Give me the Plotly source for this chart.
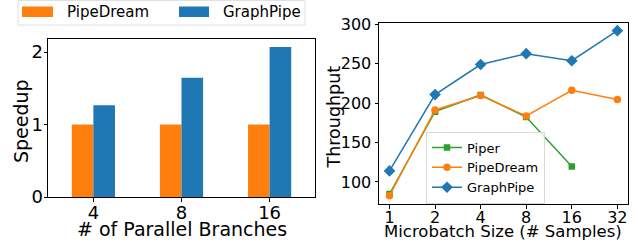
import plotly.graph_objects as go

# Left chart data
branches = ["4", "8", "16"]
speedup_pipedream = [1.0, 1.0, 1.0]
speedup_graphpipe = [1.265, 1.645, 2.07]

# Right chart data
microbatch = ["1", "2", "4", "8", "16", "32"]
thr_piper = [84.7, 189.2, 210.4, 182.4, 119.5]
thr_pipedream = [82.5, 191.3, 209.6, 183.7, 216.3, 204.5]
thr_graphpipe = [114.0, 210.8, 249.0, 262.7, 253.8, 292.0]

ORANGE = "#ff7f0e"
BLUE = "#1f77b4"
GREEN = "#2ca02c"
FONT = "DejaVu Sans"
W, H = 637, 242

fig = go.Figure()

fig.add_trace(go.Bar(x=branches, y=speedup_pipedream, name="PipeDream",
                     marker=dict(color=ORANGE, line=dict(width=0)),
                     xaxis="x", yaxis="y", showlegend=False))
fig.add_trace(go.Bar(x=branches, y=speedup_graphpipe, name="GraphPipe",
                     marker=dict(color=BLUE, line=dict(width=0)),
                     xaxis="x", yaxis="y", showlegend=False))

fig.add_trace(go.Scatter(x=microbatch[:len(thr_piper)], y=thr_piper, name="Piper",
                         mode="lines+markers", line=dict(color=GREEN, width=1.5),
                         marker=dict(symbol="square", size=6.5, color=GREEN),
                         xaxis="x2", yaxis="y2", legend="legend2"))
fig.add_trace(go.Scatter(x=microbatch, y=thr_pipedream, name="PipeDream",
                         mode="lines+markers", line=dict(color=ORANGE, width=1.5),
                         marker=dict(symbol="circle", size=7.5, color=ORANGE),
                         xaxis="x2", yaxis="y2", legend="legend2"))
fig.add_trace(go.Scatter(x=microbatch, y=thr_graphpipe, name="GraphPipe",
                         mode="lines+markers", line=dict(color=BLUE, width=1.5),
                         marker=dict(symbol="diamond", size=9, color=BLUE),
                         xaxis="x2", yaxis="y2", legend="legend2"))

def px_x(p):
    return p / W

def px_y(p):
    return 1 - p / H

axis_common = dict(showline=True, linecolor="black", linewidth=1, mirror=True,
                   ticks="outside", ticklen=3.5, tickcolor="black", showgrid=False,
                   zeroline=False, automargin=False)

fig.update_layout(
    width=W, height=H,
    margin=dict(l=0, r=0, t=0, b=0, autoexpand=False),
    paper_bgcolor="white", plot_bgcolor="white",
    font=dict(family=FONT, color="black"),
    showlegend=True,
    barmode="group", bargap=0.51, bargroupgap=0,
    xaxis=dict(domain=[px_x(48), px_x(315)], anchor="y", type="category",
               range=[-0.515, 2.515], tickfont=dict(size=18), ticklabelstandoff=-4,
               **axis_common),
    yaxis=dict(domain=[px_y(197), px_y(39)], anchor="x", range=[0, 2.18],
               tickvals=[0, 1, 2], tickfont=dict(size=18), ticklabelstandoff=-3,
               **axis_common),
    xaxis2=dict(domain=[px_x(379), px_x(628.3)], anchor="y2", type="category",
                range=[-0.23, 5.24], tickfont=dict(size=16), ticklabelstandoff=-5,
                **axis_common),
    yaxis2=dict(domain=[px_y(204), px_y(23.3)], anchor="x2", range=[72, 301.3],
                tickvals=[100, 150, 200, 250, 300], tickfont=dict(size=16),
                **axis_common),
    legend2=dict(x=px_x(426), y=px_y(131.5), xanchor="left", yanchor="top",
                 bgcolor="rgba(255,255,255,0.8)", bordercolor="#d9d9d9", borderwidth=1,
                 font=dict(size=13), tracegroupgap=0, itemwidth=30),
)

# Axis titles
fig.add_annotation(xref="paper", yref="paper", x=px_x(181.5), y=px_y(229),
                   xanchor="center", yanchor="middle", text="# of Parallel Branches",
                   showarrow=False, font=dict(size=19))
fig.add_annotation(xref="paper", yref="paper", x=px_x(21), y=px_y(121),
                   xanchor="center", yanchor="middle", text="Speedup", textangle=-90,
                   showarrow=False, font=dict(size=19))
fig.add_annotation(xref="paper", yref="paper", x=px_x(503), y=px_y(231),
                   xanchor="center", yanchor="middle", text="Microbatch Size (# Samples)",
                   showarrow=False, font=dict(size=16.5))
fig.add_annotation(xref="paper", yref="paper", x=px_x(333), y=px_y(117.5),
                   xanchor="center", yanchor="middle", text="Throughput", textangle=-90,
                   showarrow=False, font=dict(size=17.5))

# Custom legend for the left (bar) chart, matplotlib-style wide swatches
fig.add_shape(type="rect", xref="paper", yref="paper",
              x0=px_x(18), x1=px_x(305), y0=px_y(25), y1=px_y(0.5),
              line=dict(color="#e0e0e0", width=1), fillcolor="white")
fig.add_shape(type="rect", xref="paper", yref="paper",
              x0=px_x(22), x1=px_x(53), y0=px_y(17), y1=px_y(6.5),
              line=dict(width=0), fillcolor=ORANGE)
fig.add_shape(type="rect", xref="paper", yref="paper",
              x0=px_x(179), x1=px_x(209), y0=px_y(17), y1=px_y(6.5),
              line=dict(width=0), fillcolor=BLUE)
fig.add_annotation(xref="paper", yref="paper", x=px_x(65), y=px_y(12),
                   xanchor="left", yanchor="middle", text="PipeDream",
                   showarrow=False, font=dict(size=15))
fig.add_annotation(xref="paper", yref="paper", x=px_x(221), y=px_y(12),
                   xanchor="left", yanchor="middle", text="GraphPipe",
                   showarrow=False, font=dict(size=15))

fig.write_html("out.html",
               config={"displayModeBar": False},
               post_script="document.body.style.margin='0';document.body.style.overflow='hidden';")
